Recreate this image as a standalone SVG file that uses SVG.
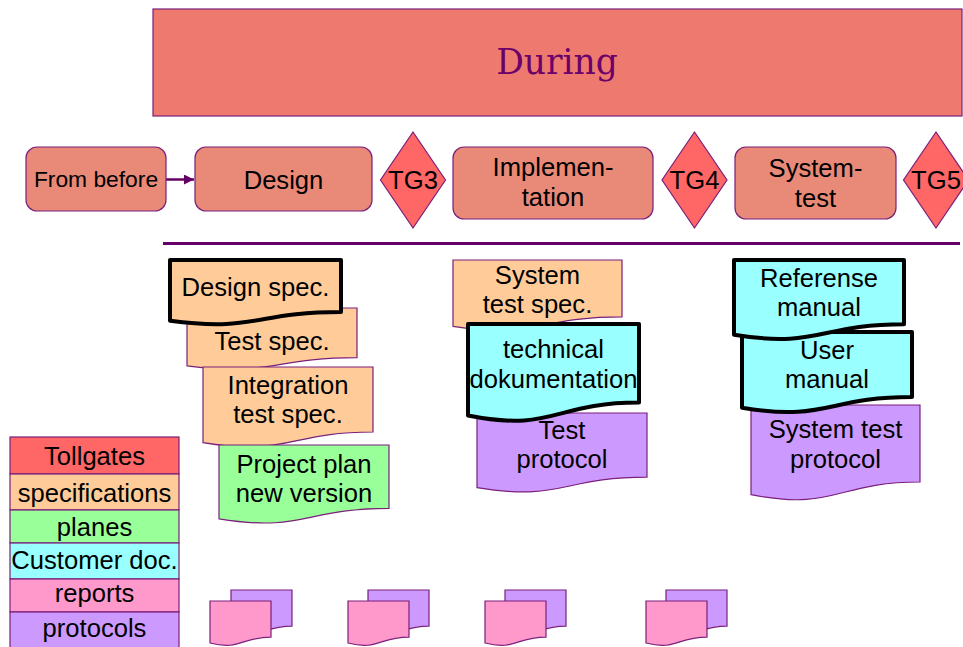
<svg xmlns="http://www.w3.org/2000/svg" xmlns:xlink="http://www.w3.org/1999/xlink" width="963" height="647" viewBox="0 0 963 647">
<defs>
<style>
.t{font-family:"Liberation Sans",Arial,sans-serif;font-size:25.6px;fill:#000;text-anchor:middle}
.ts{font-size:22.8px}
.box{fill:#E98A78;stroke:#7a1f7a;stroke-width:1.2}
.tg{fill:#FF6666;stroke:#7a1f7a;stroke-width:1.2}
.thin{stroke:#7a1f7a;stroke-width:1.2}
.thick{stroke:#000;stroke-width:4;stroke-linejoin:round}
.spec{fill:#FFCC99}
.plan{fill:#99FF99}
.cust{fill:#99FFFF}
.rep{fill:#FF99CC}
.prot{fill:#CC99FF}
.tgl{fill:#FF6666}
</style>
<marker id="ah" viewBox="0 0 10 10" refX="10" refY="5" markerWidth="4" markerHeight="4" orient="auto" markerUnits="strokeWidth">
<path d="M0,0 L10,5 L0,10 Z" fill="#660066"/>
</marker>
<path id="sd" d="M0,0 H61 V36.1 C30.5,36.1 30.5,49.8 0,42 Z"/>
</defs>

<g id="during">
<rect x="153" y="9" width="809" height="107" fill="#EE7A6F" stroke="#7a1f7a" stroke-width="1.2"/>
<text x="557" y="74" font-family="DejaVu Serif,serif" font-size="34.5" fill="#6B006B" text-anchor="middle">During</text>
</g>

<g id="connectors">
<line x1="166" y1="179.5" x2="194" y2="179.5" stroke="#660066" stroke-width="2.5" marker-end="url(#ah)"/>
<line x1="163" y1="243.5" x2="960" y2="243.5" stroke="#660066" stroke-width="3"/>
</g>

<g id="from-before">
<rect class="box" x="26" y="147" width="140" height="64" rx="11"/>
<text class="t ts" x="96" y="187">From before</text>
</g>
<g id="design">
<rect class="box" x="195" y="147" width="177" height="64" rx="11"/>
<text class="t" x="283.5" y="189">Design</text>
</g>
<g id="tg3">
<polygon class="tg" points="413,132 445.5,180 413,228 380.5,180"/>
<text class="t" x="413" y="189">TG3</text>
</g>
<g id="implementation">
<rect class="box" x="453" y="147" width="200" height="72" rx="11"/>
<text class="t" x="553" y="176">Implemen-</text>
<text class="t" x="553" y="206">tation</text>
</g>
<g id="tg4">
<polygon class="tg" points="694.5,132 727,180 694.5,228 662,180"/>
<text class="t" x="694.5" y="189">TG4</text>
</g>
<g id="systemtest">
<rect class="box" x="735" y="147" width="161" height="72" rx="11"/>
<text class="t" x="815.5" y="177">System-</text>
<text class="t" x="815.5" y="207">test</text>
</g>
<g id="tg5">
<polygon class="tg" points="936,132 968.5,180 936,228 903.5,180"/>
<text class="t" x="936" y="189">TG5</text>
</g>

<g id="test-spec">
<path class="spec thin" d="M187,308 H357 V357.7 C272,357.7 272,376.6 187,365.9 Z"/>
<text class="t" x="272" y="349.5">Test spec.</text>
</g>
<g id="integration-test-spec">
<path class="spec thin" d="M203,367 H373 V432 C288,432 288,456.7 203,442.7 Z"/>
<text class="t" x="288" y="393.5">Integration</text>
<text class="t" x="288" y="423">test spec.</text>
</g>
<g id="project-plan">
<path class="plan thin" d="M219,445 H389 V508.4 C304,508.4 304,532.5 219,518.8 Z"/>
<text class="t" x="304" y="472.5">Project plan</text>
<text class="t" x="304" y="501.5">new version</text>
</g>
<g id="design-spec">
<path class="spec thick" d="M170,260 H341 V312.1 C255.5,312.1 255.5,332 170,320.7 Z"/>
<text class="t" x="255.5" y="295.5">Design spec.</text>
</g>

<g id="system-test-spec">
<path class="spec thin" d="M453,260 H622 V316.9 C537.5,316.9 537.5,338.6 453,326.3 Z"/>
<text class="t" x="537.5" y="283.5">System</text>
<text class="t" x="537.5" y="312.5">test spec.</text>
</g>
<g id="test-protocol">
<path class="prot thin" d="M477,413 H647 V477.2 C562,477.2 562,501.6 477,487.7 Z"/>
<text class="t" x="562" y="439">Test</text>
<text class="t" x="562" y="468">protocol</text>
</g>
<g id="technical-doc">
<path class="cust thick" d="M468,324 H639 V402.6 C553.5,402.6 553.5,432.5 468,415.5 Z"/>
<text class="t" x="553.5" y="358">technical</text>
<text class="t" x="553.5" y="387.5">dokumentation</text>
</g>

<g id="system-test-protocol">
<path class="prot thin" d="M751,405 H920 V482 C835.5,482 835.5,511.3 751,494.7 Z"/>
<text class="t" x="835.5" y="438">System test</text>
<text class="t" x="835.5" y="467.5">protocol</text>
</g>
<g id="user-manual">
<path class="cust thick" d="M742,332 H912 V397 C827,397 827,421.7 742,407.7 Z"/>
<text class="t" x="827" y="358.5">User</text>
<text class="t" x="827" y="387.5">manual</text>
</g>
<g id="referense-manual">
<path class="cust thick" d="M734,260 H904 V324.2 C819,324.2 819,348.6 734,334.7 Z"/>
<text class="t" x="819" y="286.5">Referense</text>
<text class="t" x="819" y="315.5">manual</text>
</g>

<g id="legend">
<rect class="tgl thin" x="10" y="437" width="169" height="37"/>
<text class="t" x="94.5" y="465">Tollgates</text>
<rect class="spec thin" x="10" y="474" width="169" height="36"/>
<text class="t" x="94.5" y="501.5">specifications</text>
<rect class="plan thin" x="10" y="510" width="169" height="33"/>
<text class="t" x="94.5" y="535.5">planes</text>
<rect class="cust thin" x="10" y="543" width="169" height="36"/>
<text class="t" x="94.5" y="569">Customer doc.</text>
<rect class="rep thin" x="10" y="579" width="169" height="33"/>
<text class="t" x="94.5" y="602">reports</text>
<rect class="prot thin" x="10" y="612" width="169" height="40"/>
<text class="t" x="94.5" y="637">protocols</text>
</g>

<g id="pair1">
<use xlink:href="#sd" x="231" y="590" class="prot thin"/>
<use xlink:href="#sd" x="210" y="601" class="rep thin"/>
</g>
<g id="pair2">
<use xlink:href="#sd" x="368" y="590" class="prot thin"/>
<use xlink:href="#sd" x="348" y="601" class="rep thin"/>
</g>
<g id="pair3">
<use xlink:href="#sd" x="505" y="590" class="prot thin"/>
<use xlink:href="#sd" x="485" y="601" class="rep thin"/>
</g>
<g id="pair4">
<use xlink:href="#sd" x="666" y="590" class="prot thin"/>
<use xlink:href="#sd" x="646" y="601" class="rep thin"/>
</g>
</svg>
